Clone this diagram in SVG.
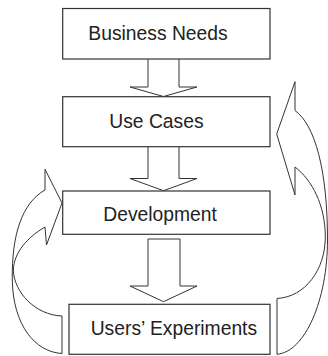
<svg xmlns="http://www.w3.org/2000/svg" width="328" height="356" viewBox="0 0 328 356">
<style>
.box{fill:#fff;stroke:#333;stroke-width:1.2}
.arr{fill:#fff;stroke:#333;stroke-width:1;stroke-linejoin:miter}
.lbl{font-family:"Liberation Sans",Arial,sans-serif;font-size:19.3px;fill:#222}
</style>
<rect width="328" height="356" fill="#fff"/>
<g id="connectors">
<path class="arr" d="M148,59 L148,87 L130,87 L163.5,96.5 L197,87 L179,87 L179,59"/>
<path class="arr" d="M148,147 L148,178.5 L130,178.5 L163.5,190.7 L197,178.5 L179,178.5 L179,147"/>
<path class="arr" d="M148,239 L148,286 L130,286 L163.5,301.7 L197,286 L180,286 L180,239 Z"/>
<path class="arr" d="M62,316 L62,353.5 C35,352 13,325 12.3,280 C11.5,235 22,203 45,190 L45,169.3 L62,203 L46.5,245 L45,227 C28,237 14,252 13.3,270 C14,292 35,315 62,316 Z"/>
<path class="arr" d="M277,298.5 L277,354.3 C305,352 327.5,300 327.5,240 C327.5,170 315,125 295,110.5 L295,81.7 L276.7,134 L295,195 L295,167 C312,180 325.3,205 325.3,237 C325.3,270 305,297 277,298.5 Z"/>
</g>
<g id="business-needs">
<rect class="box" x="62.7" y="8.5" width="207.3" height="50.5"/>
<text class="lbl" x="88.3" y="40">Business Needs</text>
</g>
<g id="use-cases">
<rect class="box" x="62.7" y="96.7" width="207.3" height="50"/>
<text class="lbl" x="109.3" y="127.5">Use Cases</text>
</g>
<g id="development">
<rect class="box" x="62.7" y="191" width="207.3" height="43.3"/>
<text class="lbl" x="103.3" y="221">Development</text>
</g>
<g id="users-experiments">
<rect class="box" x="69" y="304.3" width="201" height="50"/>
<text class="lbl" x="90.7" y="335">Users’ Experiments</text>
</g>
</svg>
